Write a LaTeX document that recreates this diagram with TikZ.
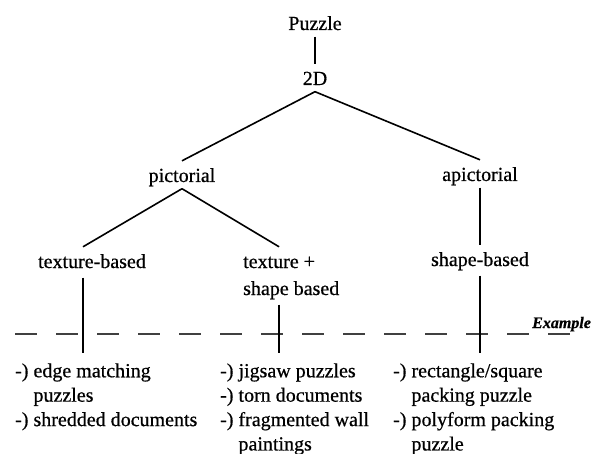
\documentclass[tikz,border=0pt]{standalone}
\usepackage{fontspec}
\setmainfont[FakeBold=0.6]{Liberation Serif}

\tikzset{
  lbl/.style={font=\fontsize{20}{24.4}\selectfont, inner sep=2pt, text height=19pt, text depth=4.5pt, anchor=base},
  lst/.style={font=\fontsize{20}{24.4}\selectfont, inner sep=0pt, align=left, anchor=north west},
  branch/.style={line width=1.6pt},
  drop/.style={line width=1.6pt, shorten <=3pt, shorten >=7pt},
  sep/.style={line width=1.2pt, black!75, dash pattern=on 22pt off 19pt}
}

\begin{document}
\begin{tikzpicture}[x=1pt,y=-1pt]
  \useasboundingbox (0,0) rectangle (593,454);

  % tree levels
  \node[lbl] (puzzle) at (315,30) {Puzzle};
  \node[lbl] (twod) at (315,85) {2D};
  \node[lbl] (pict) at (182,182) {pictorial};
  \node[lbl] (apict) at (480,181) {apictorial};
  \node[lbl] (texb) at (92,268) {texture-based};
  \node[lbl, anchor=base west] (texa) at (241,268) {texture +};
  \node[lbl, anchor=base west] (shpa) at (241,295) {shape based};
  \node[lbl] (shpb) at (480,266) {shape-based};

  % examples
  \node[font=\fontsize{16}{18}\selectfont\bfseries\itshape, anchor=base west, inner sep=0pt] (exmpl) at (532,328) {Example};
  \node[lst] (exl) at (15,360) {\strut-) edge matching\\\phantom{-) }puzzles\\-) shredded documents};
  \node[lst] (exm) at (220,360) {\strut-) jigsaw puzzles\\-) torn documents\\-) fragmented wall\\\phantom{-) }paintings};
  \node[lst] (exr) at (393,360) {\strut-) rectangle/square\\\phantom{-) }packing puzzle\\-) polyform packing\\\phantom{-) }puzzle};

  \draw[sep] (15,334) -- (570,334);

  % branches
  \draw[branch] (puzzle.south) -- (twod.north);
  \draw[branch] (twod.south) -- (pict.north);
  \draw[branch] (twod.south) -- (apict.north);
  \draw[branch] (pict.south) -- ([xshift=-9pt]texb.north);
  \draw[branch] (pict.south) -- (texa.north);
  \draw[branch] (apict.south) -- (shpb.north);
  \draw[drop] ([xshift=-9pt]texb.south) -- ([xshift=-9pt]texb.south |- exl.north);
  \draw[drop] (texa |- shpa.south) -- (texa |- exm.north);
  \draw[drop] (shpb.south) -- (shpb |- exr.north);
\end{tikzpicture}
\end{document}
